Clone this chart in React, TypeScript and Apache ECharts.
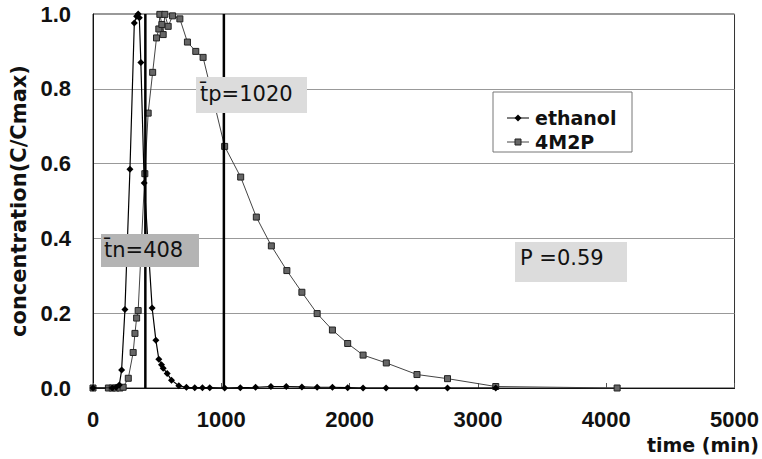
import React, { useEffect, useRef } from "react";
import * as echarts from "echarts";

const ethanol: [number, number][] = [
  [0, 0], [150, 0], [180, 0.002], [205, 0.008], [223, 0.048], [249, 0.21], [288, 0.585],
  [322, 0.976], [340, 0.994], [352, 1.0], [361, 0.99], [373, 0.87], [399, 0.548],
  [461, 0.214], [490, 0.128], [513, 0.077], [534, 0.062], [547, 0.053], [578, 0.039],
  [612, 0.021], [669, 0.006], [728, 0.002], [793, 0.001], [853, 0.001], [910, 0.001],
  [1026, 0], [1148, 0.001], [1267, 0.002], [1387, 0.004], [1506, 0.004], [1628, 0.003],
  [1747, 0.002], [1866, 0.002], [1985, 0.001], [2105, 0], [2284, 0], [2522, 0],
  [2763, 0], [3139, 0],
];

const m2p: [number, number][] = [
  [0, 0], [120, 0], [150, 0], [180, 0], [210, 0], [235, 0.002], [275, 0.026],
  [313, 0.095], [327, 0.146], [340, 0.187], [352, 0.207], [404, 0.573], [430, 0.735],
  [465, 0.844], [495, 0.936], [513, 0.96], [521, 0.999], [537, 0.972], [547, 0.945],
  [560, 0.999], [586, 0.967], [620, 0.995], [677, 0.987], [736, 0.925], [801, 0.9],
  [858, 0.884], [1026, 0.646], [1151, 0.564], [1273, 0.457], [1390, 0.38], [1511, 0.314],
  [1628, 0.256], [1747, 0.199], [1866, 0.155], [1985, 0.119], [2105, 0.088],
  [2286, 0.067], [2525, 0.036], [2763, 0.025], [3139, 0.004], [4085, 0],
];

const meanTimes = { tn: 408, tp: 1020 };
const xTicks = { min: 0, max: 5000, interval: 1000 };
const yTicks = { min: 0, max: 1, interval: 0.2 };

const NARROW = "'Liberation Sans Narrow', 'Liberation Sans', Arial, sans-serif";
const WIDE = "'DejaVu Sans', sans-serif";

export default function App() {
  const ref = useRef<HTMLDivElement>(null);
  useEffect(() => {
    if (!ref.current) return;
    const chart = echarts.init(ref.current, null, { renderer: "svg" });
    chart.setOption({
      animation: false,
      backgroundColor: "#ffffff",
      textStyle: { fontFamily: WIDE },
      grid: {
        left: 93, right: 26, top: 14, bottom: 71,
        show: true, borderColor: "#333", borderWidth: 1, backgroundColor: "transparent",
      },
      xAxis: {
        type: "value",
        min: xTicks.min, max: xTicks.max, interval: xTicks.interval,
        axisLine: { show: true, onZero: false, lineStyle: { color: "#111", width: 1 } },
        axisTick: { show: true, inside: true, length: 5, lineStyle: { color: "#555" } },
        splitLine: { show: false },
        axisLabel: {
          color: "#111", fontSize: 22, margin: 20, fontFamily: NARROW, fontWeight: "bold",
          formatter: (v: number) => String(v),
        },
      },
      yAxis: {
        type: "value",
        min: yTicks.min, max: yTicks.max, interval: yTicks.interval,
        name: "concentration(C/Cmax)",
        nameLocation: "middle",
        nameGap: 58,
        nameTextStyle: { color: "#111", fontSize: 21, fontWeight: "bold", fontFamily: WIDE },
        axisLine: { show: true, lineStyle: { color: "#111", width: 1 } },
        axisTick: { show: false },
        splitLine: { show: true, lineStyle: { color: "#999", width: 1.2 } },
        axisLabel: {
          color: "#111", fontSize: 22, margin: 22, fontFamily: NARROW, fontWeight: "bold",
          formatter: (v: number) => v.toFixed(1),
        },
      },
      legend: { show: false },
      series: [
        {
          name: "4M2P",
          type: "line",
          data: m2p,
          symbol: "rect",
          symbolSize: 6,
          lineStyle: { color: "#444", width: 1 },
          itemStyle: { color: "#666", borderColor: "#222", borderWidth: 1 },
          z: 3,
        },
        {
          name: "ethanol",
          type: "line",
          data: ethanol,
          symbol: "diamond",
          symbolSize: 7,
          lineStyle: { color: "#000", width: 1.2 },
          itemStyle: { color: "#000" },
          z: 4,
        },
        {
          name: "tn",
          type: "line",
          data: [[meanTimes.tn, 0], [meanTimes.tn, 1]],
          symbol: "none",
          lineStyle: { color: "#000", width: 2.5 },
          z: 5,
        },
        {
          name: "tp",
          type: "line",
          data: [[meanTimes.tp, 0], [meanTimes.tp, 1]],
          symbol: "none",
          lineStyle: { color: "#000", width: 2.5 },
          z: 5,
        },
      ],
      graphic: [
        {
          type: "rect", z: 10,
          shape: { x: 196, y: 77, width: 111, height: 36 },
          style: { fill: "#dcdcdc" },
        },
        {
          type: "text", z: 11, x: 200, y: 94,
          style: { text: "t\u0304p=1020", font: `21px ${WIDE}`, fill: "#111", verticalAlign: "middle" },
        },
        {
          type: "rect", z: 10,
          shape: { x: 101, y: 234, width: 98, height: 33 },
          style: { fill: "#b4b4b4" },
        },
        {
          type: "text", z: 11, x: 104, y: 250,
          style: { text: "t\u0304n=408", font: `21px ${WIDE}`, fill: "#111", verticalAlign: "middle" },
        },
        {
          type: "rect", z: 10,
          shape: { x: 515, y: 242, width: 112, height: 40 },
          style: { fill: "#dcdcdc" },
        },
        {
          type: "text", z: 11, x: 520, y: 258,
          style: { text: "P =0.59", font: `21px ${WIDE}`, fill: "#111", verticalAlign: "middle" },
        },
        {
          type: "rect", z: 10,
          shape: { x: 493, y: 92, width: 139, height: 60 },
          style: { fill: "#fff", stroke: "#777", lineWidth: 1 },
        },
        {
          type: "line", z: 11,
          shape: { x1: 507, y1: 118, x2: 529, y2: 118 },
          style: { stroke: "#000", lineWidth: 1 },
        },
        {
          type: "polygon", z: 12,
          shape: { points: [[518, 114.5], [521.5, 118], [518, 121.5], [514.5, 118]] },
          style: { fill: "#000" },
        },
        {
          type: "text", z: 11, x: 535, y: 118,
          style: { text: "ethanol", font: `bold 19px ${WIDE}`, fill: "#111", verticalAlign: "middle" },
        },
        {
          type: "line", z: 11,
          shape: { x1: 507, y1: 142, x2: 529, y2: 142 },
          style: { stroke: "#444", lineWidth: 1 },
        },
        {
          type: "rect", z: 12,
          shape: { x: 515, y: 139, width: 6, height: 6 },
          style: { fill: "#666", stroke: "#222", lineWidth: 1 },
        },
        {
          type: "text", z: 11, x: 535, y: 142,
          style: { text: "4M2P", font: `bold 19px ${WIDE}`, fill: "#111", verticalAlign: "middle" },
        },
        {
          type: "text", z: 11, x: 759, y: 445,
          style: { text: "time (min)", font: `bold 19px ${WIDE}`, fill: "#111", align: "right", verticalAlign: "middle" },
        },
      ],
    });
    return () => chart.dispose();
  }, []);
  return <div ref={ref} style={{ width: 762, height: 459, position: "absolute", left: 0, top: 0 }} />;
}
